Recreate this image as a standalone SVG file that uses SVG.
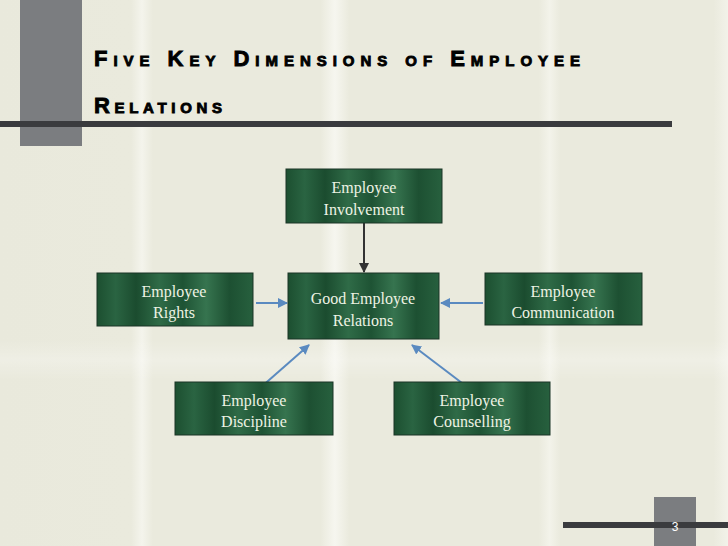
<svg xmlns="http://www.w3.org/2000/svg" width="728" height="546" viewBox="0 0 728 546">
<defs>
<linearGradient id="bg" x1="0" y1="0" x2="1" y2="0">
<stop offset="0" stop-color="#E9E9DC"/>
<stop offset="0.18" stop-color="#EAEADD"/>
<stop offset="0.195" stop-color="#F4F4EC"/>
<stop offset="0.21" stop-color="#EAEADD"/>
<stop offset="0.44" stop-color="#EAEADD"/>
<stop offset="0.46" stop-color="#F6F6EF"/>
<stop offset="0.48" stop-color="#EAEADD"/>
<stop offset="0.74" stop-color="#EAEADD"/>
<stop offset="0.755" stop-color="#F3F3EA"/>
<stop offset="0.77" stop-color="#EAEADD"/>
<stop offset="0.98" stop-color="#EAEADD"/>
<stop offset="1" stop-color="#F2F2E9"/>
</linearGradient>
<linearGradient id="hband" x1="0" y1="0" x2="0" y2="1">
<stop offset="0" stop-color="#FFFFFF" stop-opacity="0"/>
<stop offset="0.5" stop-color="#FFFFFF" stop-opacity="0.25"/>
<stop offset="1" stop-color="#FFFFFF" stop-opacity="0"/>
</linearGradient>
<linearGradient id="box" x1="0" y1="0" x2="1" y2="0">
<stop offset="0" stop-color="#1C4F30"/>
<stop offset="0.12" stop-color="#2A6442"/>
<stop offset="0.25" stop-color="#1B4C2F"/>
<stop offset="0.4" stop-color="#2F6B47"/>
<stop offset="0.55" stop-color="#1E5334"/>
<stop offset="0.7" stop-color="#36744F"/>
<stop offset="0.85" stop-color="#1D5032"/>
<stop offset="1" stop-color="#27603E"/>
</linearGradient>
<marker id="ahDark" viewBox="0 0 10 10" refX="9" refY="5" markerWidth="5" markerHeight="5" orient="auto">
<path d="M0,0 L10,5 L0,10 z" fill="#333333"/>
</marker>
<marker id="ahBlue" viewBox="0 0 10 10" refX="9" refY="5" markerWidth="5" markerHeight="5" orient="auto">
<path d="M0,0 L10,5 L0,10 z" fill="#5A8AC0"/>
</marker>
</defs>
<style>
.node rect{fill:url(#box);stroke:#1A3526;stroke-width:1}
.node text{font-family:"Liberation Serif","Times New Roman",serif;font-size:16px;fill:#EEF3E4;text-anchor:middle}
.title{font-family:"Liberation Sans",Arial,sans-serif;font-weight:900;font-size:22px;font-variant:small-caps;fill:#000;stroke:#000;stroke-width:0.9}
.conn line{stroke-width:2;fill:none}
</style>
<rect x="0" y="0" width="728" height="546" fill="url(#bg)"/>
<rect x="0" y="340" width="728" height="40" fill="url(#hband)"/>
<!-- decorations -->
<rect x="20" y="0" width="62" height="146" fill="#7B7D80"/>
<rect x="0" y="121" width="672" height="6" fill="#3A3B3E"/>
<rect x="654" y="497" width="42" height="49" fill="#7B7D80"/>
<rect x="563" y="522" width="165" height="6" fill="#3A3B3E"/>
<text x="675" y="531" font-family="Liberation Sans, Arial, sans-serif" font-size="12" fill="#FFFFFF" text-anchor="middle">3</text>
<!-- title -->
<text class="title" x="94" y="66" textLength="486" lengthAdjust="spacing">Five Key Dimensions of Employee</text>
<text class="title" x="94" y="113" textLength="128" lengthAdjust="spacing">Relations</text>
<!-- connectors -->
<g id="connectors" class="conn">
<line x1="364" y1="223" x2="364" y2="272" stroke="#333333" marker-end="url(#ahDark)"/>
<line x1="256" y1="303" x2="287" y2="303" stroke="#5A8AC0" marker-end="url(#ahBlue)"/>
<line x1="483" y1="303" x2="441" y2="303" stroke="#5A8AC0" marker-end="url(#ahBlue)"/>
<line x1="260" y1="388" x2="309" y2="345" stroke="#5A8AC0" marker-end="url(#ahBlue)"/>
<line x1="462" y1="383" x2="412" y2="345" stroke="#5A8AC0" marker-end="url(#ahBlue)"/>
</g>
<!-- nodes -->
<g id="involvement" class="node">
<rect x="286" y="169" width="156" height="54"/>
<text x="364" y="193">Employee</text>
<text x="364" y="215">Involvement</text>
</g>
<g id="good-relations" class="node">
<rect x="288" y="273" width="151" height="66"/>
<text x="363" y="304">Good Employee</text>
<text x="363" y="326">Relations</text>
</g>
<g id="rights" class="node">
<rect x="97" y="273" width="156" height="53"/>
<text x="174" y="297">Employee</text>
<text x="174" y="318">Rights</text>
</g>
<g id="communication" class="node">
<rect x="485" y="273" width="157" height="52"/>
<text x="563" y="297">Employee</text>
<text x="563" y="318">Communication</text>
</g>
<g id="discipline" class="node">
<rect x="175" y="382" width="158" height="53"/>
<text x="254" y="406">Employee</text>
<text x="254" y="427">Discipline</text>
</g>
<g id="counselling" class="node">
<rect x="394" y="382" width="156" height="53"/>
<text x="472" y="406">Employee</text>
<text x="472" y="427">Counselling</text>
</g>
</svg>
